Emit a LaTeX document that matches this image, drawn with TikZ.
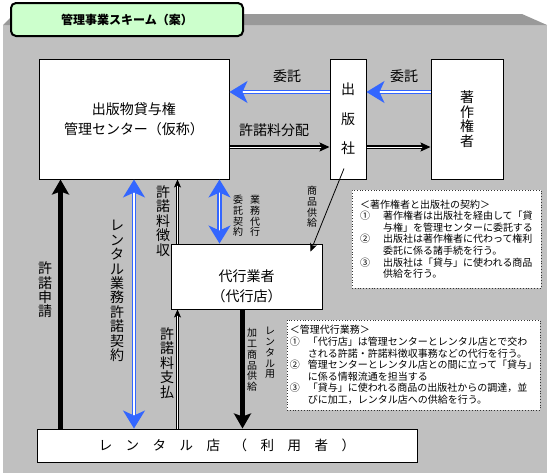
\documentclass[tikz,border=0pt]{standalone}
\usepackage{fontspec}
\setmainfont{Noto Sans CJK JP}
\usetikzlibrary{arrows.meta,
                 calc
  }
\definecolor{arrblue}{RGB}{51,102,255}
\definecolor{panelgray}{RGB}{192,192,192}
\definecolor{topgray}{RGB}{153,153,153}
\definecolor{titlegreen}{RGB}{204,255,204}

\begin{document}
\begin{tikzpicture}[
      x=1pt, y=-1pt,
      box/.style={
                rectangle,
                draw=black,
                line width=1pt,
                fill=white,
                inner sep=0pt,
                align=center,
                font=\fontsize{14}{20}\selectfont
                },
      note/.style={
                rectangle,
                draw=black!80,
                dotted,
                line width=0.8pt,
                fill=white,
                inner sep=0pt,
                align=left,
                font=\fontsize{10}{11.6}\selectfont
                },
      vlabel/.style={
                align=center,
                inner sep=0pt,
                font=\fontsize{14}{14.4}\selectfont
                },
      vsmall/.style={
                align=center,
                inner sep=0pt,
                font=\fontsize{10}{10.7}\selectfont
                },
      hlabel/.style={
                inner sep=0pt,
                font=\fontsize{14}{16}\selectfont
                },
      bluearrow/.style={
                draw=arrblue,
                double=white,
                line width=1.5pt,
                double distance=1.2pt
                },
      thickarrow/.style={
                draw=black,
                line width=5pt,
                -{Stealth[length=15pt,width=17pt,inset=3pt]}
                },
      pairarrow/.style={
                draw=black,
                double=white,
                line width=1.3pt,
                double distance=1pt,
                -{Stealth[length=10pt,width=9pt,inset=2pt]}
                },
      thinpair/.style={
                draw=black,
                double=white,
                line width=0.7pt,
                double distance=1pt,
                -{Stealth[length=8pt,width=7pt,inset=2pt]}
                }
]

\useasboundingbox (0,0) rectangle (550,475);

% panel
\fill[panelgray] (3,25) rectangle (547,473);
\fill[topgray] (3,25) -- (14,14) -- (522,14) -- (547,25) -- cycle;

\node[draw=black, line width=2pt, rounded corners=5pt, fill=titlegreen,
      minimum width=232pt, minimum height=33pt, inner sep=0pt,
      font=\fontsize{12}{14}\selectfont\bfseries] (title) at (127,19.5) {管理事業スキーム（案）};

% boxes
\node[box, minimum width=190pt, minimum height=120pt] (cent) at (134,119) {出版物貸与権\\管理センター（仮称）};
\node[box, minimum width=36pt, minimum height=120pt, font=\fontsize{14}{29.5}\selectfont] (pub) at (348,119) {出\\版\\社};
\node[box, minimum width=72pt, minimum height=120pt, font=\fontsize{14}{14.5}\selectfont] (auth) at (467,119) {著\\作\\権\\者};
\node[box, minimum width=151pt, minimum height=65pt] (agent) at (246.5,276.5) {};
\node[inner sep=0pt, align=center, font=\fontsize{14}{20}\selectfont] (agenttext) at ($ (agent) + (0,9.5) $) {代行業者\\（代行店）};
\node[box, minimum width=380pt, minimum height=33pt, font=\fontsize{13.5}{16}\selectfont] (rent) at (227,445.5) {レ　ン　タ　ル　店　（　利　用　者　）};

\node[note, minimum width=189pt, minimum height=98pt] (note1) at (446.5,239) {%
＜著作権者と出版社の契約＞\\
\makebox[23pt][l]{①}著作権者は出版社を経由して「貸\\
\hspace*{23pt}与権」を管理センターに委託する\\
\makebox[23pt][l]{②}出版社は著作権者に代わって権利\\
\hspace*{23pt}委託に係る諸手続を行う。\\
\makebox[23pt][l]{③}出版社は「貸与」に使われる商品\\
\hspace*{23pt}供給を行う。};

\node[note, minimum width=253pt, minimum height=90pt] (note2) at (413.5,365) {%
＜管理代行業務＞\\
\makebox[18pt][l]{①}「代行店」は管理センターとレンタル店とで交わ\\
\hspace*{18pt}される許諾・許諾料徴収事務などの代行を行う。\\
\makebox[18pt][l]{②}管理センターとレンタル店との間に立って「貸与」\\
\hspace*{18pt}に係る情報流通を担当する\\
\makebox[18pt][l]{③}「貸与」に使われる商品の出版社からの調達，並\\
\hspace*{18pt}びに加工，レンタル店への供給を行う。};

% horizontal connectors
\coordinate (w1) at ($ (pub.west) + (0,-27) $);
\coordinate (w2) at ($ (auth.west) + (0,-27) $);
\coordinate (d1) at ($ (cent.east) + (0,28) $);
\coordinate (d2) at ($ (pub.east) + (0,28) $);
\draw[bluearrow, -{Stealth[length=18pt,width=22pt,inset=5pt]}] (w1) -- (w1 -| cent.east);
\draw[bluearrow, -{Stealth[length=18pt,width=22pt,inset=5pt]}] (w2) -- (w2 -| pub.east);
\draw[pairarrow] (d1) -- (d1 -| pub.west);
\draw[pairarrow] (d2) -- (d2 -| auth.west);

% vertical connectors
\coordinate (k1) at ($ (cent.south west) + (22,0) $);
\coordinate (k2) at ($ (agent.north west) + (7,0) $);
\coordinate (k3) at ($ (agent.north west) + (49,0) $);
\coordinate (k4) at ($ (agent.south west) + (72,0) $);
\draw[thickarrow] (k1 |- rent.north) -- (k1);
\draw[bluearrow, {Stealth[length=18pt,width=22pt,inset=5pt]}-{Stealth[length=18pt,width=22pt,inset=5pt]}] (cent.south) -- (cent.south |- rent.north);
\draw[thinpair] (k2) -- (k2 |- cent.south);
\draw[thinpair] (k2 |- rent.north) -- (k2 |- agent.south);
\draw[bluearrow, {Stealth[length=18pt,width=22pt,inset=5pt]}-{Stealth[length=18pt,width=22pt,inset=5pt]}] (k3 |- cent.south) -- (k3);
\draw[thickarrow] (k4) -- (k4 |- rent.north);
\draw[line width=0.8pt, -{Stealth[length=8pt,width=7pt,inset=2pt]}] ($ (pub.south) + (-4,-11) $) -- ($ (agent.north east) + (-12,8) $);

% labels
\node[hlabel] (l1) at (287,76) {委託};
\node[hlabel] (l2) at (404,76) {委託};
\node[hlabel] (l3) at (274,130) {許諾料分配};
\node[vlabel] (l4) at (45,290) {許\\諾\\申\\請};
\node[vlabel] (l5) at (117,291) {レ\\ン\\タ\\ル\\業\\務\\許\\諾\\契\\約};
\node[vlabel] (l6) at (163,221) {許\\諾\\料\\徴\\収};
\node[vsmall] (l7) at (238,216) {委\\託\\契\\約};
\node[vsmall] (l8) at (255,216) {業\\務\\代\\行};
\node[vsmall] (l9) at (312,207) {商\\品\\供\\給};
\node[vlabel] (l10) at (167,363) {許\\諾\\料\\支\\払};
\node[vsmall] (l11) at (252,360) {加\\工\\商\\品\\供\\給};
\node[vsmall] (l12) at (270,353) {レ\\ン\\タ\\ル\\用};

\end{tikzpicture}
\end{document}
